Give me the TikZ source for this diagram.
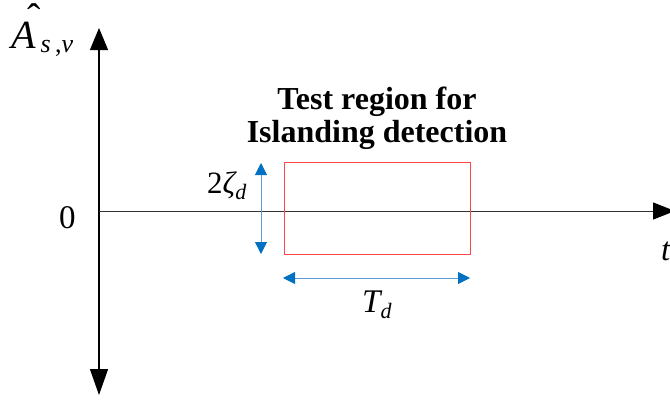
\documentclass[tikz,border=0pt]{standalone}
\usepackage{fontspec}
\setmainfont{Liberation Serif}
\usetikzlibrary{arrows.meta}
\definecolor{dimline}{RGB}{91,155,213}
\definecolor{dimtip}{RGB}{0,112,192}
\definecolor{boxred}{RGB}{255,70,70}
\tikzset{
  axisline/.style={line width=1.2pt, black},
  bluedim/.style={line width=1pt, draw=dimline, {Triangle[length=12pt,width=12pt,fill=dimtip,color=dimtip]}-{Triangle[length=12pt,width=12pt,fill=dimtip,color=dimtip]}},
  regionbox/.style={draw=boxred, line width=1pt},
  mathlbl/.style={inner sep=0pt, anchor=base west, font=\fontsize{33}{33}\selectfont},
  titlelbl/.style={inner sep=0pt, align=center, font=\fontsize{32}{33}\selectfont\bfseries}
}
\newcommand{\subsc}[1]{\raisebox{-6pt}{\fontsize{22}{22}\selectfont #1}}
\begin{document}
\begin{tikzpicture}[x=1pt,y=-1pt]
\useasboundingbox (0,0) rectangle (670,402);
\clip (0,0) rectangle (670,402);
% axes
\coordinate (ytop) at (99,28);
\coordinate (ybot) at (99,395);
\coordinate (xstart) at (99,211);
\coordinate (xend) at (675,211);
\draw[axisline, {Triangle[length=26pt,width=18pt]}-{Triangle[length=22pt,width=18pt]}] (ybot) -- (ytop);
\draw[line width=1pt, black!80, -{Triangle[length=22pt,width=17pt,black]}] (xstart) -- (xend);
% test region
\node[regionbox, minimum width=186pt, minimum height=92pt, inner sep=0pt, anchor=north west] (box) at (284,162) {};
% dimension arrows
\coordinate (vtop) at (261,163);
\coordinate (vbot) at (261,254);
\draw[bluedim] (vbot) -- (vtop);
\coordinate (hl) at (283,278);
\coordinate (hr) at (470,278);
\draw[bluedim] (hl) -- (hr);
% labels
\node[mathlbl, font=\fontsize{40}{40}\selectfont] (alabel) at (11,48)
  {\makebox[0pt][l]{\hspace{16pt}\raisebox{17pt}{ˆ}}\itshape A\hspace{5pt}\raisebox{-4pt}{\fontsize{26}{26}\selectfont s\upshape\,,\itshape v}};
\node[mathlbl] (zero) at (59,228) {0};
\node[mathlbl] (tlabel) at (661,260) {\itshape t};
\node[mathlbl, font=\fontsize{31}{31}\selectfont] (zlabel) at (207,193) {2\itshape ζ\subsc{d}};
\node[mathlbl] (tdlabel) at (362,312) {\itshape T\subsc{d}};
\node[titlelbl] (title) at (377,118.5) {Test region for\\Islanding detection};
\end{tikzpicture}
\end{document}
